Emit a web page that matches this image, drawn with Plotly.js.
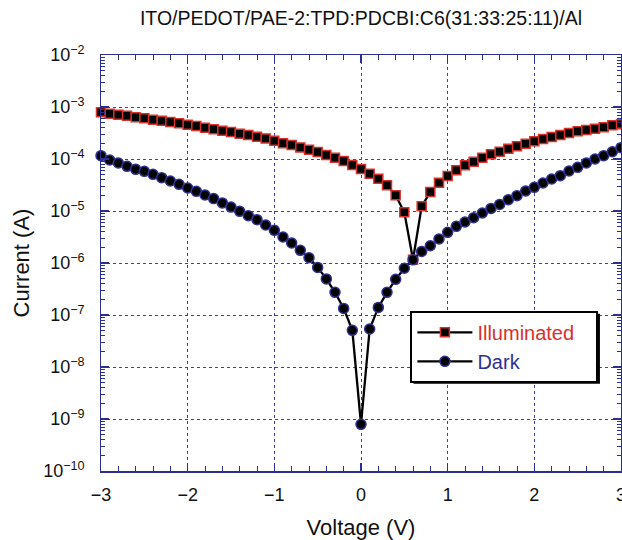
<!DOCTYPE html>
<html>
<head>
<meta charset="utf-8">
<script src="https://cdn.plot.ly/plotly-3.0.1.min.js"></script>
<style>
  html, body { margin: 0; padding: 0; background: #fff; overflow: hidden; }
  #chart { width: 622px; height: 540px; }
</style>
</head>
<body>
<div id="chart"></div>
<script>
// Voltage (V)
var voltage = [
  -3.0, -2.9, -2.8, -2.7, -2.6, -2.5, -2.4, -2.3, -2.2, -2.1,
  -2.0, -1.9, -1.8, -1.7, -1.6, -1.5, -1.4, -1.3, -1.2, -1.1,
  -1.0, -0.9, -0.8, -0.7, -0.6, -0.5, -0.4, -0.3, -0.2, -0.1,
   0.0,  0.1,  0.2,  0.3,  0.4,  0.5,  0.6,  0.7,  0.8,  0.9,
   1.0,  1.1,  1.2,  1.3,  1.4,  1.5,  1.6,  1.7,  1.8,  1.9,
   2.0,  2.1,  2.2,  2.3,  2.4,  2.5,  2.6,  2.7,  2.8,  2.9,
   3.0
];

// Current (A) under illumination
var illuminated = [
  7.89e-4, 7.45e-4, 7.13e-4, 6.81e-4, 6.32e-4, 6.05e-4, 5.70e-4, 5.46e-4, 5.15e-4, 4.85e-4,
  4.57e-4, 4.32e-4, 4.01e-4, 3.72e-4, 3.51e-4, 3.30e-4, 3.07e-4, 2.90e-4, 2.69e-4, 2.49e-4,
  2.24e-4, 2.00e-4, 1.86e-4, 1.67e-4, 1.51e-4, 1.36e-4, 1.19e-4, 1.06e-4, 9.16e-5, 7.67e-5,
  6.43e-5, 5.22e-5, 4.19e-5, 3.12e-5, 2.00e-5, 9.42e-6, 1.16e-6, 1.23e-5, 2.32e-5, 3.48e-5,
  4.71e-5, 6.05e-5, 7.55e-5, 8.89e-5, 1.06e-4, 1.23e-4, 1.38e-4, 1.58e-4, 1.75e-4, 1.97e-4,
  2.19e-4, 2.43e-4, 2.65e-4, 2.90e-4, 3.16e-4, 3.40e-4, 3.61e-4, 3.83e-4, 4.06e-4, 4.44e-4,
  4.65e-4
];

// Current (A) in the dark
var dark = [
  1.16e-4, 9.57e-5, 8.38e-5, 7.23e-5, 6.32e-5, 5.79e-5, 5.07e-5, 4.38e-5, 3.78e-5, 3.26e-5,
  2.77e-5, 2.39e-5, 2.03e-5, 1.73e-5, 1.43e-5, 1.19e-5, 9.86e-6, 8.13e-6, 6.81e-6, 5.37e-6,
  4.25e-6, 3.16e-6, 2.43e-6, 1.75e-6, 1.26e-6, 8.22e-7, 4.95e-7, 2.73e-7, 1.34e-7, 5.07e-8,
  7.89e-10, 5.38e-8, 1.40e-7, 2.73e-7, 4.85e-7, 7.94e-7, 1.15e-6, 1.67e-6, 2.15e-6, 2.90e-6,
  3.89e-6, 5.07e-6, 6.14e-6, 7.45e-6, 9.16e-6, 1.12e-5, 1.34e-5, 1.65e-5, 1.97e-5, 2.43e-5,
  2.85e-5, 3.45e-5, 4.12e-5, 4.78e-5, 5.87e-5, 6.92e-5, 8.38e-5, 1.00e-4, 1.16e-4, 1.38e-4,
  1.65e-4
];

var seriesNames = ['Illuminated', 'Dark'];
var titleText = 'ITO/PEDOT/PAE-2:TPD:PDCBI:C6(31:33:25:11)/Al';
var xTitle = 'Voltage (V)';
var yTitle = 'Current (A)';

var RED = '#d8302b';
var NAVY = '#2e3192';
var AXIS = '#2b2f8f';
var GRID = '#3b3fa6';
var FONT = '"Liberation Sans", Arial, Helvetica, sans-serif';
var PAD = '\u00a0\u00a0\u00a0';

var traces = [
  {
    x: voltage, y: illuminated, type: 'scatter', mode: 'lines+markers',
    name: '<span style="color:' + RED + '">' + seriesNames[0] + PAD + '</span>',
    line: {color: '#000', width: 2.3},
    marker: {symbol: 'square', size: 9, color: '#000', line: {color: RED, width: 1.5}},
    cliponaxis: false
  },
  {
    x: voltage, y: dark, type: 'scatter', mode: 'lines+markers',
    name: '<span style="color:' + NAVY + '">' + seriesNames[1] + '</span>',
    line: {color: '#000', width: 2.3},
    marker: {symbol: 'circle', size: 10, color: '#000', line: {color: NAVY, width: 1.5}},
    cliponaxis: false
  }
];

var layout = {
  width: 622, height: 540,
  margin: {l: 101, r: 1, t: 55, b: 69, pad: 0},
  paper_bgcolor: '#fff', plot_bgcolor: '#fff',
  font: {family: FONT, color: '#111', size: 18},
  showlegend: true,
  title: {
    text: titleText, font: {family: FONT, size: 19.5, color: '#111'},
    x: 0.5, xref: 'paper', y: 1 - 18 / 540, yref: 'container', yanchor: 'middle'
  },
  xaxis: {
    range: [-3, 3], dtick: 1, tick0: 0,
    showline: true, linecolor: AXIS, linewidth: 1.5, mirror: 'allticks',
    ticks: 'inside', ticklen: 8, tickwidth: 1.2, tickcolor: AXIS,
    showgrid: true, gridcolor: GRID, griddash: 'dot', gridwidth: 1,
    zeroline: false,
    minor: {dtick: 0.2, tick0: 0, ticks: 'inside', ticklen: 5, tickwidth: 1, tickcolor: AXIS, showgrid: false},
    tickfont: {family: FONT, size: 18, color: '#111'},
    ticklabelstandoff: 7,
    ticklabeloverflow: 'allow',
    title: {text: xTitle, font: {family: FONT, size: 22, color: '#111'}, standoff: 27}
  },
  yaxis: {
    type: 'log', range: [-10, -2], dtick: 1, exponentformat: 'power',
    showline: true, linecolor: AXIS, linewidth: 1.5, mirror: 'allticks',
    ticks: 'inside', ticklen: 8, tickwidth: 1.2, tickcolor: AXIS,
    showgrid: true, gridcolor: GRID, griddash: 'dot', gridwidth: 1,
    zeroline: false,
    minor: {dtick: 'D1', ticks: 'inside', ticklen: 4, tickwidth: 1, tickcolor: AXIS, showgrid: false},
    tickfont: {family: FONT, size: 14.4, color: '#111'},
    ticklabelstandoff: 12,
    title: {text: yTitle, font: {family: FONT, size: 22, color: '#111'}, standoff: 7}
  },
  legend: {
    x: 0.595, y: 0.385, xanchor: 'left', yanchor: 'top',
    bgcolor: '#fff', bordercolor: '#000', borderwidth: 2,
    font: {family: FONT, size: 20},
    itemwidth: 55, tracegroupgap: 0
  },
  shapes: [
    {type: 'rect', xref: 'paper', yref: 'paper', layer: 'above',
     x0: 0.601, x1: 0.9595, y0: 0.210, y1: 0.378,
     fillcolor: '#000', line: {width: 0}}
  ]
};

Plotly.newPlot('chart', traces, layout, {displayModeBar: false, staticPlot: true});
</script>
</body>
</html>
